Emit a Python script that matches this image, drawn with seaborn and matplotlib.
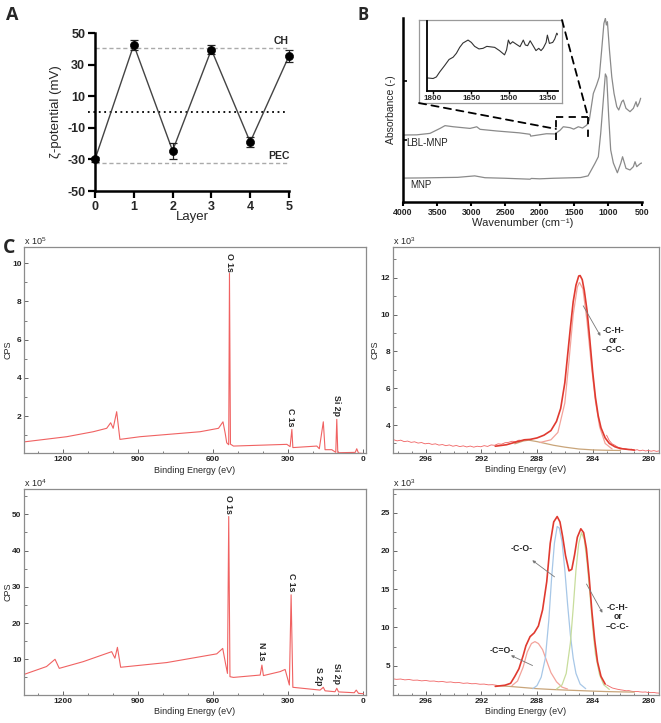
import numpy as np
import pandas as pd
import seaborn as sns
import matplotlib.pyplot as plt
from matplotlib.patches import ConnectionPatch
from matplotlib.ticker import MultipleLocator

sns.set_theme(style="ticks")
plt.rcParams['font.family'] = ['Liberation Sans', 'DejaVu Sans']
plt.rcParams['font.weight'] = 'bold'
plt.rcParams['mathtext.default'] = 'regular'
plt.rcParams['axes.unicode_minus'] = False

# ---------------- data ----------------
# A: zeta potential per layer
layers = [0, 1, 2, 3, 4, 5]
zeta = [-30, 42.5, -24.5, 39.5, -19, 35.5]
zeta_err = [1.5, 3, 5, 3, 3, 4]
ch_level = 40.3
pec_level = -32.5

# B: FTIR (arbitrary absorbance units)
mnp_wn = [4000, 3700, 3400, 3200, 2950, 2800, 2500, 2140, 2120, 2000, 1800, 1600, 1400,
          1290, 1189, 1140, 1105, 1067, 1037, 1017, 988, 959, 920, 861, 812, 785,
          735, 676, 627, 603, 578, 540, 520, 500]
mnp_abs = [13.0, 13.1, 13.3, 13.4, 14.2, 13.2, 12.9, 12.4, 12.8, 12.6, 12.9, 13.1, 13.3,
           14.2, 21.0, 24.6, 37.4, 55.4, 69.6, 67.9, 46.4, 28.3, 21.2, 15.9, 21.0, 24.6,
           18.3, 17.4, 19.2, 21.9, 19.2, 20.4, 21.0, 21.2]
lbl_wn = [4000, 3800, 3605, 3458, 3385, 3263, 3019, 2950, 2921, 2872, 2628, 2300, 2140,
          2130, 1900, 1774, 1700, 1653, 1555, 1500, 1433, 1370, 1310, 1272, 1213, 1165,
          1126, 1091, 1058, 1037, 1022, 1007, 977, 943, 910, 870, 841, 797, 774, 735,
          676, 627, 588, 568, 540, 520]
lbl_abs = [36.4, 36.5, 37.3, 40.0, 41.5, 40.9, 40.0, 40.6, 40.9, 39.5, 38.6, 37.6, 36.8,
           35.8, 37.1, 37.0, 39.0, 40.9, 40.4, 39.6, 40.9, 40.2, 41.8, 44.6, 59.0, 63.6,
           68.0, 82.6, 97.1, 99.8, 96.2, 98.0, 82.6, 68.0, 59.0, 51.8, 50.0, 54.5, 55.4,
           50.9, 49.1, 50.9, 54.5, 51.8, 54.0, 56.4]
inset_wn = [1824, 1800, 1787, 1774, 1754, 1737, 1721, 1708, 1695, 1682, 1662, 1649, 1636,
            1619, 1603, 1588, 1557, 1538, 1518, 1510, 1503, 1496, 1486, 1473, 1457, 1444,
            1436, 1427, 1417, 1407, 1394, 1383, 1374, 1365, 1354, 1349, 1341, 1328, 1320,
            1312, 1304]
inset_abs = [13.3, 12.7, 14.3, 19.3, 26.0, 32.0, 34.3, 38.3, 44.3, 48.7, 51.7, 49.3, 45.3,
             42.7, 43.3, 45.3, 44.3, 41.0, 36.7, 41.7, 51.7, 47.7, 50.0, 47.7, 45.0, 51.7,
             46.7, 46.0, 51.0, 46.7, 41.0, 43.3, 41.0, 43.7, 49.3, 56.7, 48.3, 49.3, 52.7,
             58.7, 56.0]

# C: XPS survey, uncoated (x1e5 CPS)
s1_ev = [1356, 1186, 1080, 1026, 1010, 1000, 986, 973, 892, 652, 578, 560, 551, 545, 537,
         534, 530, 518, 304, 291, 284, 280, 184, 174, 158, 151, 124, 108, 104, 100, 30, 24,
         17, -3]
s1_cps = [0.65, 0.92, 1.18, 1.36, 1.65, 1.36, 2.23, 0.78, 0.92, 1.18, 1.36, 1.70, 1.09,
          0.60, 0.50, 9.47, 0.53, 0.43, 0.52, 0.40, 1.30, 0.35, 0.43, 0.29, 1.70, 0.24, 0.24,
          0.10, 1.83, 0.08, 0.10, 0.29, 0.06, 0.04]
# C: XPS survey, coated (x1e4 CPS)
s2_ev = [1354, 1267, 1233, 1216, 1120, 1006, 993, 983, 970, 785, 585, 561, 550, 542, 537,
         532, 518, 411, 404, 398, 331, 311, 294, 287, 280, 171, 158, 151, 111, 104, 97, 34,
         26, 17, -3]
s2_cps = [5.9, 8.0, 10.0, 7.5, 9.35, 12.1, 10.3, 13.3, 7.8, 9.1, 11.5, 13.0, 8.9, 6.1,
          49.4, 5.2, 5.0, 5.65, 8.4, 5.5, 6.6, 7.2, 2.9, 27.8, 2.27, 1.5, 2.27, 1.3, 1.05,
          2.0, 1.0, 0.77, 1.5, 0.6, 0.5]

# C: C1s high resolution, uncoated (x1e3 CPS)
c1_raw_left = [3.20, 3.14, 3.18, 3.10, 3.13, 3.06, 3.09, 3.02, 3.05, 2.98, 3.01, 2.95,
               2.98, 2.91, 2.94, 2.88, 2.92, 2.85, 2.89, 2.83, 2.87, 2.81, 2.86, 2.80,
               2.85, 2.82, 2.88, 2.84, 2.92, 2.90, 2.98, 2.96, 3.04, 3.06, 3.12, 3.10,
               3.18, 3.16, 3.22, 3.20]
c1_raw_right = [3.45, 3.15, 2.98, 2.90, 2.80, 2.76, 2.72, 2.70, 2.66, 2.69, 2.63, 2.66,
                2.60, 2.64, 2.59, 2.62, 2.58, 2.61, 2.57, 2.60]
c1_env_ev = [291.0, 290.2, 289.5, 288.9, 288.5, 288.0, 287.5, 287.0, 286.6, 286.3, 286.0,
             285.8, 285.6, 285.4, 285.2, 285.0, 284.9, 284.75, 284.6, 284.4, 284.2, 284.0,
             283.8, 283.6, 283.4, 283.1, 282.8, 282.4, 282.0, 281.0]
c1_env = [2.85, 2.93, 3.08, 3.20, 3.22, 3.30, 3.45, 3.70, 4.20, 4.90, 6.30, 7.80, 9.30,
          10.70, 11.60, 12.10, 12.12, 11.90, 11.30, 10.20, 8.60, 6.90, 5.50, 4.50, 3.85,
          3.30, 3.00, 2.82, 2.72, 2.64]
c1_ch_ev = [287.8, 287.0, 286.5, 286.0, 285.7, 285.4, 285.1, 284.95, 284.7, 284.4, 284.1,
            283.8, 283.5, 283.1, 282.6]
c1_ch = [3.05, 3.20, 3.60, 5.20, 7.50, 10.0, 11.5, 11.75, 11.4, 9.6, 7.3, 5.3, 3.9, 3.0,
         2.7]
c1_bg_ev = [289.6, 289.0, 288.6, 288.0, 287.4, 286.8, 286.0, 285.0, 284.0, 283.0, 282.0]
c1_bg = [2.98, 3.13, 3.18, 3.10, 3.00, 2.90, 2.80, 2.70, 2.65, 2.63, 2.62]

# C: C1s high resolution, coated (x1e3 CPS)
c2_raw_left = [3.30, 3.22, 3.26, 3.15, 3.20, 3.10, 3.12, 3.02, 3.07, 2.98, 3.00, 2.90,
               2.94, 2.84, 2.88, 2.78, 2.80, 2.70, 2.74, 2.64, 2.66, 2.58, 2.60, 2.50,
               2.52, 2.44]
c2_raw_right = [2.50, 2.30, 2.10, 2.00, 1.92, 1.85, 1.80, 1.72, 1.74, 1.66, 1.62, 1.64,
                1.58, 1.55, 1.57, 1.50, 1.48, 1.50, 1.44, 1.42]
c2_env_ev = [291.0, 290.3, 289.9, 289.6, 289.3, 289.0, 288.8, 288.5, 288.2, 287.9, 287.6,
             287.3, 287.05, 286.8, 286.55, 286.35, 286.15, 285.95, 285.7, 285.5, 285.3,
             285.1, 284.85, 284.65, 284.45, 284.25, 284.05, 283.85, 283.65, 283.4, 283.1]
c2_env = [2.30, 2.45, 2.70, 3.60, 4.60, 6.30, 7.60, 8.80, 9.30, 10.2, 12.3, 16.0, 21.0,
          23.8, 24.5, 23.8, 21.8, 19.4, 17.4, 17.6, 19.5, 21.8, 22.9, 22.4, 20.3, 16.5,
          12.0, 8.30, 5.50, 3.60, 2.60]
c2_co2_ev = [289.8, 289.4, 289.0, 288.7, 288.4, 288.15, 287.9, 287.6, 287.3, 287.0, 286.6,
             286.2, 285.8]
c2_co2 = [2.4, 3.0, 4.8, 6.8, 7.9, 8.15, 7.9, 7.1, 5.6, 4.1, 2.9, 2.2, 1.95]
c2_co_ev = [288.3, 288.0, 287.7, 287.4, 287.15, 286.95, 286.75, 286.55, 286.4, 286.2,
            286.0, 285.8, 285.6, 285.4, 285.2, 284.9, 284.5]
c2_co = [2.0, 2.4, 3.5, 6.0, 11.0, 16.5, 21.0, 23.2, 23.0, 21.2, 17.5, 13.0, 9.0, 6.0,
         4.0, 2.6, 2.0]
c2_ch_ev = [286.6, 286.2, 285.9, 285.6, 285.4, 285.2, 285.0, 284.8, 284.6, 284.4, 284.2,
            284.0, 283.8, 283.5, 283.2, 282.8]
c2_ch = [1.95, 2.5, 4.0, 8.0, 12.5, 17.5, 21.0, 22.4, 21.5, 18.5, 14.5, 10.0, 6.5, 3.8,
         2.5, 1.9]
c2_bg_ev = [290.9, 290.0, 289.0, 288.0, 287.0, 286.0, 285.0, 284.0, 283.0, 282.0, 281.0]
c2_bg = [2.40, 2.30, 2.15, 2.00, 1.90, 1.82, 1.75, 1.68, 1.62, 1.58, 1.55]

RED = '#f06262'
ENV = '#e03a30'
PINK = '#f3a39b'
BLUE = '#a7c7e7'
GREEN = '#c8dd9c'
TAN = '#c9a57a'


def line(ax, x, y, color, lw, zorder=2):
    sns.lineplot(x=x, y=y, ax=ax, color=color, linewidth=lw, sort=False,
                 estimator=None, zorder=zorder)


fig = plt.figure(figsize=(6.61, 7.23), dpi=100)

# ---------------- A ----------------
axA = fig.add_axes([0.1437, 0.7358, 0.2935, 0.2185])
axA.plot([0, 5], [ch_level, ch_level], ls=(0, (3, 2)), color='#aaaaaa', lw=1)
axA.plot([0, 5], [pec_level, pec_level], ls=(0, (3, 2)), color='#aaaaaa', lw=1)
axA.plot([-0.17, 4.95], [0, 0], ls=(0, (1, 2)), color='black', lw=1.3, clip_on=False)
line(axA, layers, zeta, '#444444', 1.0)
axA.errorbar(layers, zeta, yerr=zeta_err, fmt='none', ecolor='#222222', elinewidth=0.9,
             capsize=3, capthick=0.9, clip_on=False, zorder=4)
sns.scatterplot(x=layers, y=zeta, ax=axA, color='black', s=34, edgecolor='black',
                zorder=5, clip_on=False)
axA.set_xlim(0, 5)
axA.set_ylim(-50, 50)
axA.set_xticks(layers)
axA.set_yticks([-50, -30, -10, 10, 30, 50])
sns.despine(ax=axA)
for s in ['left', 'bottom']:
    axA.spines[s].set_linewidth(1.8)
    axA.spines[s].set_color('black')
axA.tick_params(width=1.6, length=5, labelsize=9, color='black', pad=2)
axA.set_xlabel('Layer', fontsize=9.5)
axA.set_ylabel('ζ-potential (mV)', fontsize=9.5)
axA.xaxis.set_label_coords(0.5, -0.125)
axA.yaxis.set_label_coords(-0.17, 0.5)
axA.text(4.79, ch_level + 1.5, 'CH', ha='center', va='bottom', fontsize=7.5)
axA.text(4.75, pec_level + 1.5, 'PEC', ha='center', va='bottom', fontsize=7.5)
fig.text(12 / 661, 1 - 15 / 723, 'A', fontsize=13, ha='center', va='center',
         family='Open Sans')

# ---------------- B ----------------
axB = fig.add_axes([0.6097, 0.7206, 0.3616, 0.2545])
line(axB, mnp_wn, mnp_abs, '#8a8a8a', 0.9)
line(axB, lbl_wn, lbl_abs, '#8a8a8a', 0.9)
axB.set_xlim(4000, 500)
axB.set_ylim(0, 100)
axB.set_xticks([4000, 3500, 3000, 2500, 2000, 1500, 1000, 500])
axB.set_yticks([33.7, 65.8])
axB.set_yticklabels([])
sns.despine(ax=axB)
for s in ['left', 'bottom']:
    axB.spines[s].set_linewidth(1.8)
    axB.spines[s].set_color('black')
axB.tick_params(axis='x', width=1.5, length=3, labelsize=6.3, color='black', pad=1)
axB.tick_params(axis='y', width=1.2, length=3, color='black', direction='in')
axB.set_xlabel('Wavenumber (cm⁻¹)', fontsize=8)
axB.set_ylabel('Absorbance (-)', fontsize=7.5, fontweight='normal')
axB.xaxis.set_label_coords(0.5, -0.088)
axB.yaxis.set_label_coords(-0.03, 0.5)
axB.text(3950, 35, 'LBL-MNP', fontsize=7, fontweight='normal', va='top', ha='left',
         color='#222222')
axB.text(3900, 12, 'MNP', fontsize=7, fontweight='normal', va='top', ha='left',
         color='#222222')
dash = (0, (4, 3))
axB.plot([1760, 1760], [33.7, 46.2], ls=dash, color='black', lw=1.3)
axB.plot([1760, 1290], [46.2, 46.2], ls=dash, color='black', lw=1.3)
axB.plot([1290, 1290], [46.2, 34.8], ls=dash, color='black', lw=1.3)

frame = fig.add_axes([0.6339, 0.8575, 0.2163, 0.1148])
frame.set_xticks([])
frame.set_yticks([])
frame.patch.set_facecolor('white')
for s in frame.spines.values():
    s.set_color('#9a9a9a')
    s.set_linewidth(0.9)

axI = fig.add_axes([0.6460, 0.8741, 0.1982, 0.0968])
axI.patch.set_alpha(0)
line(axI, inset_wn, inset_abs, '#333333', 0.8)
axI.set_xlim(1824, 1307)
axI.set_ylim(0, 71)
axI.set_xticks([1800, 1650, 1500, 1350])
axI.set_yticks([])
sns.despine(ax=axI)
for s in ['left', 'bottom']:
    axI.spines[s].set_linewidth(1.3)
    axI.spines[s].set_color('black')
axI.tick_params(axis='x', width=1, length=2, labelsize=5.8, color='black', pad=1)

for xyA, xyB in [((0, 0), (1760, 39.7)), ((1, 1), (1290, 46.2))]:
    con = ConnectionPatch(xyA=xyA, coordsA=frame.transAxes, xyB=xyB, coordsB=axB.transData,
                          ls=dash, color='black', lw=1.3)
    fig.add_artist(con)
fig.text(363 / 661, 1 - 15 / 723, 'B', fontsize=12, ha='center', va='center',
         family='Open Sans')


# ---------------- C ----------------
def xps_axes(rect, xlim, ylim, xmaj, xmin, ymaj, ymin, power):
    ax = fig.add_axes(rect)
    ax.set_xlim(*xlim)
    ax.set_ylim(*ylim)
    for s in ax.spines.values():
        s.set_color('#8c8c8c')
        s.set_linewidth(0.9)
    ax.xaxis.set_major_locator(MultipleLocator(xmaj))
    ax.xaxis.set_minor_locator(MultipleLocator(xmin))
    ax.yaxis.set_major_locator(MultipleLocator(ymaj))
    ax.yaxis.set_minor_locator(MultipleLocator(ymin))
    ax.tick_params(which='major', direction='in', length=3, width=0.7, color='#666666',
                   labelsize=6, pad=2)
    ax.tick_params(which='minor', direction='in', length=1.8, width=0.6, color='#666666')
    ax.set_xlabel('Binding Energy (eV)', fontsize=6.5)
    ax.set_ylabel('CPS', fontsize=6.5)
    ax.xaxis.set_label_coords(0.5, -0.06)
    ax.text(0.0, 1.0, 'x 10$^{%d}$' % power, transform=ax.transAxes, ha='left', va='bottom',
            fontsize=6.5, fontweight='normal')
    return ax


axS1 = xps_axes([0.0368, 0.3730, 0.5165, 0.2853], (1356, -12), (0.05, 10.85),
                300, 100, 2, 1, 5)
axS1.yaxis.set_label_coords(-0.035, 0.5)
line(axS1, s1_ev, s1_cps, RED, 0.8)
for ev, y, lab in [(535, 10.53, 'O 1s'), (288, 2.42, 'C 1s'), (103.5, 3.1, 'Si 2p')]:
    axS1.text(ev, y, lab, rotation=270, ha='center', va='top', fontsize=6.3)

axS2 = xps_axes([0.0368, 0.0387, 0.5165, 0.2845], (1356, -12), (0.14, 56.9),
                300, 100, 10, 5, 4)
axS2.yaxis.set_label_coords(-0.035, 0.5)
line(axS2, s2_ev, s2_cps, RED, 0.8)
for ev, y, lab in [(537, 55.4, 'O 1s'), (404, 14.8, 'N 1s'), (287, 33.8, 'C 1s'),
                   (177, 7.9, 'S 2p'), (104, 9.0, 'Si 2p')]:
    axS2.text(ev, y, lab, rotation=270, ha='center', va='top', fontsize=6.3)

c1_left_ev = np.arange(40) * -0.25 + 298.3
c1_right_ev = np.arange(20) * -0.2 + 283.0
axC1 = xps_axes([0.5946, 0.3734, 0.4024, 0.2849], (298.35, 279.23), (2.48, 13.67),
                4, 1, 2, 1, 3)
axC1.yaxis.set_label_coords(-0.05, 0.5)
line(axC1, c1_left_ev, c1_raw_left, RED, 0.6)
line(axC1, c1_right_ev, c1_raw_right, RED, 0.6)
line(axC1, c1_bg_ev, c1_bg, TAN, 0.9)
line(axC1, c1_ch_ev, c1_ch, PINK, 0.9)
line(axC1, c1_env_ev, c1_env, ENV, 1.2, zorder=3)
axC1.annotate('', xy=(283.34, 8.71), xytext=(284.78, 10.61),
              arrowprops=dict(arrowstyle='-|>', color='#777777', lw=0.6,
                              mutation_scale=4))
axC1.text(282.5, 8.62, '-C-H-\nor\n–C-C-', ha='center', va='center', fontsize=6.3,
          linespacing=1.1)

c2_left_ev = np.arange(26) * -0.3 + 298.4
c2_right_ev = np.arange(20) * -0.2 + 283.0
axC2 = xps_axes([0.5946, 0.0387, 0.4024, 0.2845], (298.35, 279.23), (1.17, 28.06),
                4, 1, 5, 2.5, 3)
axC2.set_ylabel('')
line(axC2, c2_left_ev, c2_raw_left, RED, 0.6)
line(axC2, c2_right_ev, c2_raw_right, RED, 0.6)
line(axC2, c2_bg_ev, c2_bg, TAN, 0.9)
line(axC2, c2_co2_ev, c2_co2, PINK, 0.9)
line(axC2, c2_co_ev, c2_co, BLUE, 0.9)
line(axC2, c2_ch_ev, c2_ch, GREEN, 0.9)
line(axC2, c2_env_ev, c2_env, ENV, 1.2, zorder=3)
for head, tail in [((288.5, 19.0), (286.58, 16.4)), ((283.2, 11.6), (284.54, 16.0)),
                   ((290.05, 6.5), (288.14, 4.87))]:
    axC2.annotate('', xy=head, xytext=tail,
                  arrowprops=dict(arrowstyle='-|>', color='#777777', lw=0.6,
                                  mutation_scale=4))
axC2.text(289.1, 20.3, '-C-O-', ha='center', va='center', fontsize=6.3)
axC2.text(282.2, 11.4, '-C-H-\nor\n–C-C-', ha='center', va='center', fontsize=6.3,
          linespacing=1.1)
axC2.text(290.5, 7.05, '-C=O-', ha='center', va='center', fontsize=6.3)

fig.text(9 / 661, 1 - 248 / 723, 'C', fontsize=14, ha='center', va='center',
         family='Open Sans')

fig.savefig('out.png', dpi=100)
